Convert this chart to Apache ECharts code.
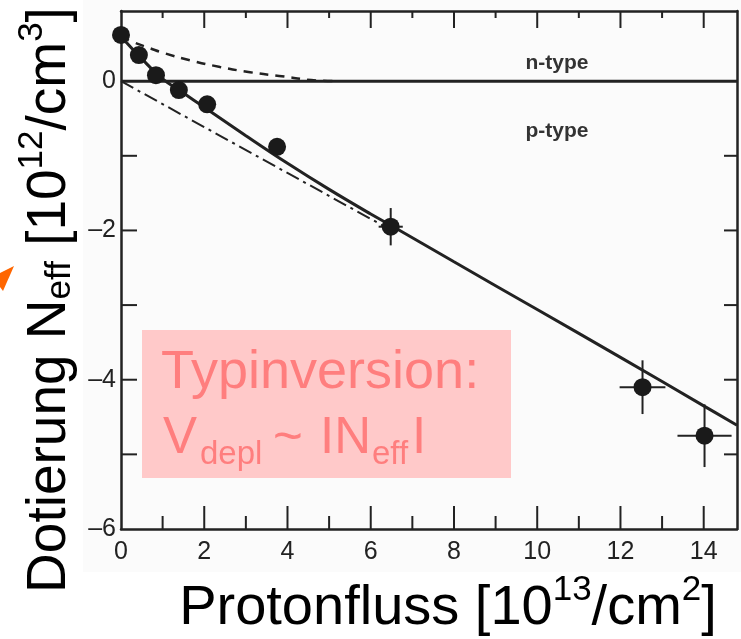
<!DOCTYPE html>
<html><head><meta charset="utf-8">
<script src="https://cdn.jsdelivr.net/npm/echarts@6/dist/echarts.min.js"></script>
<style>html,body{margin:0;padding:0;background:#fff}#c{width:741px;height:639px}</style>
</head><body><div id="c"></div>
<script>
// ---- data ----
const pointsX = [0, 0.43, 0.84, 1.39, 2.07, 3.75, 6.48, 12.53, 14.02];
const pointsY = [0.62, 0.35, 0.08, -0.12, -0.31, -0.88, -1.95, -4.10, -4.75];
const errX = [0, 0, 0, 0, 0, 0, 0.29, 0.55, 0.65];
const errY = [0, 0, 0, 0, 0, 0, 0.25, 0.36, 0.42];

const fitX = [0, 0.5, 1, 1.5, 2, 3, 4, 5, 6, 6.48, 8, 10, 12, 14, 14.8];
const fitY = [0.6, 0.3, 0.03, -0.16, -0.35, -0.73, -1.1, -1.45, -1.78, -1.93, -2.42, -3.06, -3.7, -4.35, -4.61];

const donorX = [0, 0.26, 0.7, 1.01, 1.66, 2.38, 3.1, 3.8, 4.7, 5.2];
const donorY = [0.6, 0.53, 0.44, 0.38, 0.28, 0.19, 0.12, 0.07, 0.01, 0];

const acceptorX = [0, 6.6];
const acceptorY = [0, -2.03];

const zeroX = [0, 14.8];
const zeroY = [0, 0];

const xMin = 0, xMax = 14.8, yMin = -6, yMax = 0.94;
const xTickLabels = ['0', '2', '4', '6', '8', '10', '12', '14'];
const yTickLabels = ['0', '–2', '–4', '–6'];
const xTicksMajor = [2, 4, 6, 8, 10, 12, 14];
const xTicksMinor = [1, 3, 5, 7, 9, 11, 13];
const yTicks = [-5, -4, -3, -2, -1];

const zip = (a, b) => a.map((v, i) => [v, b[i]]);

const ink = '#222';
const tickFont = {fontFamily: '"Liberation Sans Narrow","Liberation Sans",Arial,sans-serif', fontSize: 25, color: '#222'};
const F = 'Liberation Sans, Arial, sans-serif';

// tick lengths (px) : [bottom, top] for x; [left, right] for y
const tickLen = {xMajor: [23, 17], xMinor: [13, 7], y: [16, 13]};

function tickSeries(values, kind) {
  return {
    type: 'custom', z: 3, silent: true,
    data: values.map(v => [v]),
    renderItem: (params, api) => {
      const v = api.value(0);
      let a, b, lines;
      if (kind === 'y') {
        a = api.coord([xMin, v]); b = api.coord([xMax, v]);
        lines = [
          {x1: a[0], y1: a[1], x2: a[0] + tickLen.y[0], y2: a[1]},
          {x1: b[0], y1: b[1], x2: b[0] - tickLen.y[1], y2: b[1]}];
      } else {
        a = api.coord([v, yMin]); b = api.coord([v, yMax]);
        const L = tickLen[kind];
        lines = [
          {x1: a[0], y1: a[1], x2: a[0], y2: a[1] - L[0]},
          {x1: b[0], y1: b[1], x2: b[0], y2: b[1] + L[1]}];
      }
      return {type: 'group', children: lines.map(s => ({type: 'line', shape: s, style: {stroke: ink, lineWidth: 2}}))};
    }
  };
}

const chart = echarts.init(document.getElementById('c'));
const baseX = {type: 'value', min: xMin, max: xMax, splitLine: {show: false}, axisTick: {show: false}};
const baseY = {type: 'value', min: yMin, max: yMax, splitLine: {show: false}, axisTick: {show: false}};

chart.setOption({
  backgroundColor: '#fff',
  animation: false,
  grid: {left: 121, right: 4, top: 11, bottom: 110, containLabel: false},
  xAxis: [
    Object.assign({}, baseX, {position: 'bottom', interval: 2,
      axisLine: {show: true, onZero: false, lineStyle: {color: ink, width: 2.5}},
      axisLabel: Object.assign({show: true, margin: 11, showMaxLabel: false,
        formatter: v => { const i = xTickLabels.indexOf(String(v)); return i >= 0 ? xTickLabels[i] : ''; }}, tickFont)}),
    Object.assign({}, baseX, {position: 'top', interval: 2, axisLabel: {show: false},
      axisLine: {show: true, onZero: false, lineStyle: {color: ink, width: 2.5}}})
  ],
  yAxis: [
    Object.assign({}, baseY, {position: 'left', interval: 2,
      axisLine: {show: true, onZero: false, lineStyle: {color: ink, width: 2.5}},
      axisLabel: Object.assign({show: true, margin: 5, showMaxLabel: false, padding: [12, 0, 0, 0],
        formatter: v => { const i = Math.round(-v / 2); return (v <= 0 && Math.abs(v + 2 * i) < 1e-9) ? yTickLabels[i] : ''; }}, tickFont)}),
    Object.assign({}, baseY, {position: 'right', interval: 2, axisLabel: {show: false},
      axisLine: {show: true, onZero: false, lineStyle: {color: ink, width: 2.5}}})
  ],
  series: [
    tickSeries(xTicksMajor, 'xMajor'),
    tickSeries(xTicksMinor, 'xMinor'),
    tickSeries(yTicks, 'y'),
    {type: 'line', data: zip(zeroX, zeroY), symbol: 'none', lineStyle: {color: ink, width: 3}, z: 3},
    {type: 'line', data: zip(donorX, donorY), symbol: 'none', smooth: true, lineStyle: {color: ink, width: 2.5, type: [9, 7]}, z: 3},
    {type: 'line', data: zip(acceptorX, acceptorY), symbol: 'none', lineStyle: {color: ink, width: 2, type: [14, 5, 3, 5]}, z: 3},
    {type: 'line', data: zip(fitX, fitY), symbol: 'none', smooth: 0.4, lineStyle: {color: ink, width: 3}, z: 4},
    {type: 'custom', z: 5,
      data: pointsX.map((x, i) => [x, pointsY[i], errX[i], errY[i]]).filter(d => d[2] > 0),
      renderItem: (params, api) => {
        const x = api.value(0), y = api.value(1), ex = api.value(2), ey = api.value(3);
        const l = api.coord([x - ex, y]), r = api.coord([x + ex, y]);
        const t = api.coord([x, y + ey]), b = api.coord([x, y - ey]);
        return {type: 'group', children: [
          {type: 'line', shape: {x1: l[0], y1: l[1], x2: r[0], y2: r[1]}, style: {stroke: ink, lineWidth: 2}},
          {type: 'line', shape: {x1: t[0], y1: t[1], x2: b[0], y2: b[1]}, style: {stroke: ink, lineWidth: 2}}
        ]};
      }},
    {type: 'scatter', data: zip(pointsX, pointsY), symbol: 'circle', symbolSize: 18,
      itemStyle: {color: '#1a1a1a', opacity: 1}, z: 6}
  ],
  graphic: [
    {type: 'rect', z: -100, shape: {x: 83, y: 0, width: 658, height: 572}, style: {fill: '#fbfbfb'}, silent: true},
    {type: 'text', x: 557, y: 63, z: 50, style: {text: 'n-type', fontFamily: F, fontSize: 21, fontWeight: 'bold', fill: '#333', align: 'center', verticalAlign: 'middle'}},
    {type: 'text', x: 557, y: 131, z: 50, style: {text: 'p-type', fontFamily: F, fontSize: 21, fontWeight: 'bold', fill: '#333', align: 'center', verticalAlign: 'middle'}},
    {type: 'rect', z: 100, shape: {x: 142, y: 330, width: 369, height: 148}, style: {fill: '#FFC9C9'}},
    {type: 'text', z: 101, x: 161, y: 373, style: {text: 'Typinversion:', fontFamily: F, fontSize: 54, fill: '#FF7E7E', align: 'left', verticalAlign: 'middle'}},
    {type: 'text', z: 101, x: 163, y: 439, style: {text: 'V', fontFamily: F, fontSize: 51, fill: '#FF7E7E', align: 'left', verticalAlign: 'middle'}},
    {type: 'text', z: 101, x: 200, y: 455, style: {text: 'depl', fontFamily: F, fontSize: 33, fill: '#FF7E7E', align: 'left', verticalAlign: 'middle'}},
    {type: 'text', z: 101, x: 273, y: 439, style: {text: '~', fontFamily: F, fontSize: 51, fill: '#FF7E7E', align: 'left', verticalAlign: 'middle'}},
    {type: 'text', z: 101, x: 320, y: 439, style: {text: 'IN', fontFamily: F, fontSize: 51, fill: '#FF7E7E', align: 'left', verticalAlign: 'middle'}},
    {type: 'text', z: 101, x: 372, y: 455, style: {text: 'eff', fontFamily: F, fontSize: 33, fill: '#FF7E7E', align: 'left', verticalAlign: 'middle'}},
    {type: 'text', z: 101, x: 412, y: 439, style: {text: 'I', fontFamily: F, fontSize: 51, fill: '#FF7E7E', align: 'left', verticalAlign: 'middle'}},
    {type: 'text', z: 50, x: 448, y: 605, style: {
      text: '{m|Protonfluss [10}{s|13}{m|/cm}{s|2}{m|]}', align: 'center', verticalAlign: 'middle',
      rich: {m: {fontFamily: F, fontSize: 56, lineHeight: 64, verticalAlign: 'bottom', fill: '#000'},
             s: {fontFamily: F, fontSize: 35, lineHeight: 35, verticalAlign: 'top', fill: '#000'}}}},
    {type: 'text', z: 50, x: 46, y: 300, rotation: Math.PI / 2, style: {
      text: '{m|Dotierung N}{b|eff}{m| [10}{s|12}{m|/cm}{s|3}{m|]}', align: 'center', verticalAlign: 'middle',
      rich: {m: {fontFamily: F, fontSize: 55, lineHeight: 63, verticalAlign: 'bottom', fill: '#000'},
             s: {fontFamily: F, fontSize: 35, lineHeight: 35, verticalAlign: 'top', fill: '#000'},
             b: {fontFamily: F, fontSize: 35, lineHeight: 35, verticalAlign: 'bottom', fill: '#000'}}}},
    {type: 'polygon', z: 50, shape: {points: [[14, 266], [0, 273], [0, 287], [3, 291]]}, style: {fill: '#FF6600'}}
  ]
});
</script></body></html>
